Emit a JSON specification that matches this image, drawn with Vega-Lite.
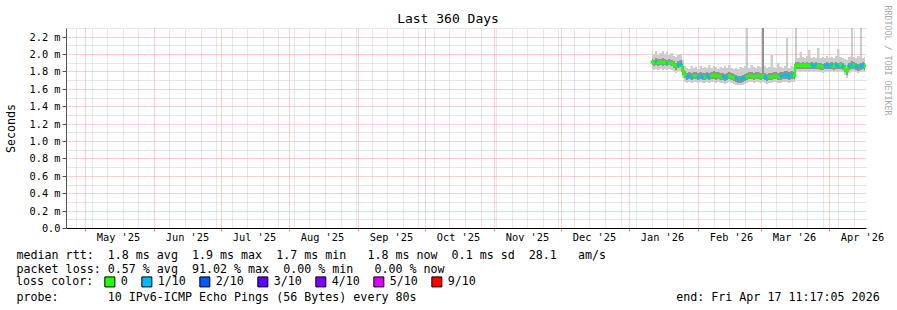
{
  "$schema": "https://vega.github.io/schema/vega-lite/v6.json",
  "width": 800,
  "height": 200,
  "autosize": {"type": "none"},
  "padding": {"left": 66, "top": 28, "right": 31, "bottom": 82},
  "background": "#ffffff",
  "config": {
    "font": "DejaVu Sans Mono",
    "view": {"stroke": null},
    "axis": {"labelFont": "DejaVu Sans Mono", "titleFont": "DejaVu Sans Mono", "titleFontWeight": "normal", "labelColor": "#000000", "titleColor": "#000000"}
  },
  "title": {"text": "Last 360 Days", "font": "DejaVu Sans Mono", "fontSize": 13, "fontWeight": "normal", "color": "#000000", "anchor": "middle", "frame": "group", "dx": -18, "dy": 35, "offset": 4, "baseline": "alphabetic"},
  "data": {"values": [
    {"d":"2026-01-11","lo":1.83,"hi":2.02,"ilo":1.87,"ihi":1.94,"med":1.91,"loss":"0"},
    {"d":"2026-01-12","lo":1.82,"hi":2.00,"ilo":1.86,"ihi":1.93,"med":1.90,"loss":"0"},
    {"d":"2026-01-13","lo":1.83,"hi":2.03,"ilo":1.87,"ihi":1.95,"med":1.91,"loss":"1/10"},
    {"d":"2026-01-14","lo":1.82,"hi":1.99,"ilo":1.86,"ihi":1.94,"med":1.90,"loss":"0"},
    {"d":"2026-01-15","lo":1.83,"hi":2.01,"ilo":1.87,"ihi":1.94,"med":1.91,"loss":"0"},
    {"d":"2026-01-16","lo":1.82,"hi":2.04,"ilo":1.86,"ihi":1.95,"med":1.90,"loss":"0"},
    {"d":"2026-01-17","lo":1.83,"hi":2.00,"ilo":1.87,"ihi":1.94,"med":1.91,"loss":"0"},
    {"d":"2026-01-18","lo":1.82,"hi":2.02,"ilo":1.86,"ihi":1.93,"med":1.90,"loss":"1/10"},
    {"d":"2026-01-19","lo":1.83,"hi":1.99,"ilo":1.87,"ihi":1.94,"med":1.90,"loss":"0"},
    {"d":"2026-01-20","lo":1.82,"hi":2.01,"ilo":1.86,"ihi":1.93,"med":1.90,"loss":"0"},
    {"d":"2026-01-21","lo":1.80,"hi":1.98,"ilo":1.84,"ihi":1.92,"med":1.88,"loss":"0"},
    {"d":"2026-01-22","lo":1.78,"hi":1.97,"ilo":1.82,"ihi":1.90,"med":1.86,"loss":"0"},
    {"d":"2026-01-23","lo":1.80,"hi":1.99,"ilo":1.84,"ihi":1.92,"med":1.88,"loss":"1/10"},
    {"d":"2026-01-24","lo":1.81,"hi":2.00,"ilo":1.85,"ihi":1.93,"med":1.89,"loss":"1/10"},
    {"d":"2026-01-25","lo":1.72,"hi":1.93,"ilo":1.76,"ihi":1.86,"med":1.80,"loss":"0"},
    {"d":"2026-01-26","lo":1.68,"hi":1.86,"ilo":1.72,"ihi":1.80,"med":1.76,"loss":"0"},
    {"d":"2026-01-27","lo":1.67,"hi":1.84,"ilo":1.70,"ihi":1.78,"med":1.74,"loss":"1/10"},
    {"d":"2026-01-28","lo":1.68,"hi":1.83,"ilo":1.71,"ihi":1.79,"med":1.75,"loss":"1/10"},
    {"d":"2026-01-29","lo":1.67,"hi":1.86,"ilo":1.70,"ihi":1.78,"med":1.74,"loss":"1/10"},
    {"d":"2026-01-30","lo":1.68,"hi":1.84,"ilo":1.71,"ihi":1.79,"med":1.75,"loss":"0"},
    {"d":"2026-01-31","lo":1.68,"hi":1.85,"ilo":1.71,"ihi":1.79,"med":1.75,"loss":"0"},
    {"d":"2026-02-01","lo":1.67,"hi":1.83,"ilo":1.70,"ihi":1.78,"med":1.74,"loss":"1/10"},
    {"d":"2026-02-02","lo":1.68,"hi":1.86,"ilo":1.71,"ihi":1.79,"med":1.75,"loss":"1/10"},
    {"d":"2026-02-03","lo":1.67,"hi":1.84,"ilo":1.70,"ihi":1.78,"med":1.74,"loss":"1/10"},
    {"d":"2026-02-04","lo":1.67,"hi":1.85,"ilo":1.70,"ihi":1.78,"med":1.74,"loss":"0"},
    {"d":"2026-02-05","lo":1.68,"hi":1.84,"ilo":1.71,"ihi":1.79,"med":1.75,"loss":"1/10"},
    {"d":"2026-02-06","lo":1.67,"hi":1.88,"ilo":1.70,"ihi":1.78,"med":1.74,"loss":"1/10"},
    {"d":"2026-02-07","lo":1.68,"hi":1.84,"ilo":1.71,"ihi":1.79,"med":1.75,"loss":"0"},
    {"d":"2026-02-08","lo":1.68,"hi":1.86,"ilo":1.71,"ihi":1.80,"med":1.76,"loss":"0"},
    {"d":"2026-02-09","lo":1.67,"hi":1.85,"ilo":1.70,"ihi":1.79,"med":1.75,"loss":"0"},
    {"d":"2026-02-10","lo":1.68,"hi":1.83,"ilo":1.71,"ihi":1.79,"med":1.75,"loss":"0"},
    {"d":"2026-02-11","lo":1.67,"hi":1.85,"ilo":1.70,"ihi":1.78,"med":1.74,"loss":"0"},
    {"d":"2026-02-12","lo":1.67,"hi":1.84,"ilo":1.70,"ihi":1.78,"med":1.74,"loss":"1/10"},
    {"d":"2026-02-13","lo":1.66,"hi":1.86,"ilo":1.69,"ihi":1.77,"med":1.73,"loss":"1/10"},
    {"d":"2026-02-14","lo":1.67,"hi":1.84,"ilo":1.70,"ihi":1.78,"med":1.74,"loss":"1/10"},
    {"d":"2026-02-15","lo":1.68,"hi":1.87,"ilo":1.71,"ihi":1.79,"med":1.75,"loss":"0"},
    {"d":"2026-02-16","lo":1.67,"hi":1.84,"ilo":1.70,"ihi":1.78,"med":1.74,"loss":"0"},
    {"d":"2026-02-17","lo":1.66,"hi":1.83,"ilo":1.69,"ihi":1.77,"med":1.73,"loss":"0"},
    {"d":"2026-02-18","lo":1.65,"hi":1.84,"ilo":1.68,"ihi":1.76,"med":1.72,"loss":"1/10"},
    {"d":"2026-02-19","lo":1.64,"hi":1.83,"ilo":1.67,"ihi":1.75,"med":1.71,"loss":"1/10"},
    {"d":"2026-02-20","lo":1.64,"hi":1.85,"ilo":1.67,"ihi":1.75,"med":1.71,"loss":"1/10"},
    {"d":"2026-02-21","lo":1.65,"hi":1.84,"ilo":1.68,"ihi":1.76,"med":1.72,"loss":"1/10"},
    {"d":"2026-02-22","lo":1.66,"hi":1.86,"ilo":1.69,"ihi":1.77,"med":1.73,"loss":"1/10"},
    {"d":"2026-02-23","lo":1.67,"hi":1.85,"ilo":1.70,"ihi":1.78,"med":1.74,"loss":"0","spike":2.4},
    {"d":"2026-02-24","lo":1.68,"hi":1.84,"ilo":1.71,"ihi":1.79,"med":1.75,"loss":"0"},
    {"d":"2026-02-25","lo":1.68,"hi":1.87,"ilo":1.71,"ihi":1.79,"med":1.75,"loss":"0"},
    {"d":"2026-02-26","lo":1.67,"hi":1.85,"ilo":1.70,"ihi":1.78,"med":1.74,"loss":"0"},
    {"d":"2026-02-27","lo":1.68,"hi":1.84,"ilo":1.71,"ihi":1.79,"med":1.75,"loss":"0"},
    {"d":"2026-02-28","lo":1.68,"hi":1.86,"ilo":1.71,"ihi":1.79,"med":1.75,"loss":"0"},
    {"d":"2026-03-01","lo":1.67,"hi":1.85,"ilo":1.70,"ihi":1.78,"med":1.74,"loss":"0"},
    {"d":"2026-03-02","lo":1.68,"hi":2.4,"ilo":1.71,"ihi":2.4,"med":1.75,"loss":"0"},
    {"d":"2026-03-03","lo":1.67,"hi":1.86,"ilo":1.70,"ihi":1.78,"med":1.74,"loss":"1/10"},
    {"d":"2026-03-04","lo":1.66,"hi":1.84,"ilo":1.69,"ihi":1.77,"med":1.73,"loss":"1/10"},
    {"d":"2026-03-05","lo":1.67,"hi":1.85,"ilo":1.70,"ihi":1.78,"med":1.74,"loss":"0"},
    {"d":"2026-03-06","lo":1.67,"hi":1.99,"ilo":1.70,"ihi":1.78,"med":1.74,"loss":"0"},
    {"d":"2026-03-07","lo":1.68,"hi":1.85,"ilo":1.71,"ihi":1.79,"med":1.75,"loss":"0"},
    {"d":"2026-03-08","lo":1.68,"hi":1.84,"ilo":1.71,"ihi":1.79,"med":1.75,"loss":"0"},
    {"d":"2026-03-09","lo":1.67,"hi":1.90,"ilo":1.70,"ihi":1.78,"med":1.74,"loss":"0"},
    {"d":"2026-03-10","lo":1.67,"hi":1.85,"ilo":1.70,"ihi":1.79,"med":1.75,"loss":"1/10"},
    {"d":"2026-03-11","lo":1.68,"hi":1.84,"ilo":1.71,"ihi":1.79,"med":1.75,"loss":"1/10"},
    {"d":"2026-03-12","lo":1.68,"hi":1.86,"ilo":1.71,"ihi":1.80,"med":1.76,"loss":"1/10"},
    {"d":"2026-03-13","lo":1.68,"hi":1.85,"ilo":1.71,"ihi":1.80,"med":1.76,"loss":"1/10","spike":2.19},
    {"d":"2026-03-14","lo":1.67,"hi":1.84,"ilo":1.70,"ihi":1.79,"med":1.75,"loss":"1/10"},
    {"d":"2026-03-15","lo":1.68,"hi":1.86,"ilo":1.71,"ihi":1.80,"med":1.76,"loss":"1/10"},
    {"d":"2026-03-16","lo":1.68,"hi":1.85,"ilo":1.71,"ihi":1.79,"med":1.75,"loss":"0"},
    {"d":"2026-03-17","lo":1.79,"hi":1.97,"ilo":1.83,"ihi":1.91,"med":1.87,"loss":"0","spike":2.4},
    {"d":"2026-03-18","lo":1.80,"hi":1.96,"ilo":1.83,"ihi":1.91,"med":1.87,"loss":"0"},
    {"d":"2026-03-19","lo":1.79,"hi":2.02,"ilo":1.83,"ihi":1.90,"med":1.86,"loss":"0"},
    {"d":"2026-03-20","lo":1.80,"hi":1.97,"ilo":1.83,"ihi":1.91,"med":1.87,"loss":"0"},
    {"d":"2026-03-21","lo":1.79,"hi":1.95,"ilo":1.83,"ihi":1.90,"med":1.86,"loss":"0"},
    {"d":"2026-03-22","lo":1.80,"hi":1.98,"ilo":1.83,"ihi":1.91,"med":1.87,"loss":"0"},
    {"d":"2026-03-23","lo":1.79,"hi":2.05,"ilo":1.83,"ihi":1.90,"med":1.86,"loss":"0"},
    {"d":"2026-03-24","lo":1.80,"hi":1.96,"ilo":1.83,"ihi":1.91,"med":1.87,"loss":"1/10"},
    {"d":"2026-03-25","lo":1.79,"hi":1.97,"ilo":1.83,"ihi":1.90,"med":1.86,"loss":"1/10"},
    {"d":"2026-03-26","lo":1.80,"hi":1.95,"ilo":1.83,"ihi":1.91,"med":1.87,"loss":"1/10"},
    {"d":"2026-03-27","lo":1.79,"hi":2.07,"ilo":1.83,"ihi":1.90,"med":1.86,"loss":"0"},
    {"d":"2026-03-28","lo":1.79,"hi":1.96,"ilo":1.82,"ihi":1.90,"med":1.86,"loss":"0"},
    {"d":"2026-03-29","lo":1.78,"hi":1.97,"ilo":1.82,"ihi":1.89,"med":1.85,"loss":"0"},
    {"d":"2026-03-30","lo":1.79,"hi":1.96,"ilo":1.83,"ihi":1.90,"med":1.86,"loss":"1/10"},
    {"d":"2026-03-31","lo":1.80,"hi":1.98,"ilo":1.83,"ihi":1.91,"med":1.87,"loss":"1/10"},
    {"d":"2026-04-01","lo":1.79,"hi":1.96,"ilo":1.83,"ihi":1.90,"med":1.86,"loss":"1/10"},
    {"d":"2026-04-02","lo":1.80,"hi":1.97,"ilo":1.83,"ihi":1.91,"med":1.87,"loss":"1/10"},
    {"d":"2026-04-03","lo":1.79,"hi":1.95,"ilo":1.82,"ihi":1.90,"med":1.86,"loss":"0"},
    {"d":"2026-04-04","lo":1.80,"hi":1.98,"ilo":1.83,"ihi":1.91,"med":1.87,"loss":"1/10"},
    {"d":"2026-04-05","lo":1.79,"hi":2.06,"ilo":1.83,"ihi":1.90,"med":1.86,"loss":"1/10"},
    {"d":"2026-04-06","lo":1.80,"hi":1.97,"ilo":1.83,"ihi":1.91,"med":1.87,"loss":"0"},
    {"d":"2026-04-07","lo":1.79,"hi":1.96,"ilo":1.82,"ihi":1.90,"med":1.86,"loss":"1/10"},
    {"d":"2026-04-08","lo":1.76,"hi":1.94,"ilo":1.79,"ihi":1.87,"med":1.83,"loss":"0"},
    {"d":"2026-04-09","lo":1.73,"hi":1.93,"ilo":1.76,"ihi":1.84,"med":1.80,"loss":"0"},
    {"d":"2026-04-10","lo":1.78,"hi":1.97,"ilo":1.82,"ihi":1.90,"med":1.86,"loss":"1/10"},
    {"d":"2026-04-11","lo":1.80,"hi":1.98,"ilo":1.83,"ihi":1.92,"med":1.88,"loss":"1/10","spike":2.4},
    {"d":"2026-04-12","lo":1.80,"hi":1.97,"ilo":1.83,"ihi":1.91,"med":1.87,"loss":"0"},
    {"d":"2026-04-13","lo":1.79,"hi":1.96,"ilo":1.82,"ihi":1.90,"med":1.86,"loss":"1/10"},
    {"d":"2026-04-14","lo":1.78,"hi":1.98,"ilo":1.81,"ihi":1.89,"med":1.85,"loss":"1/10"},
    {"d":"2026-04-15","lo":1.79,"hi":1.97,"ilo":1.82,"ihi":1.90,"med":1.86,"loss":"1/10","spike":2.4},
    {"d":"2026-04-16","lo":1.80,"hi":1.96,"ilo":1.83,"ihi":1.91,"med":1.87,"loss":"1/10"},
    {"d":"2026-04-17","lo":1.79,"hi":1.97,"ilo":1.82,"ihi":1.90,"med":1.86,"loss":"0"}
  ]},
  "resolve": {"axis": {"x": "independent", "y": "independent"}},
  "layer": [
    {
      "layer": [
        {
          "mark": {"type": "area", "interpolate": "step", "color": "#cdcdcd", "clip": true},
          "encoding": {
            "x": {
              "field": "d", "type": "temporal",
              "scale": {"type": "utc", "domain": [1745320625000, 1776424625000], "nice": false, "round": true},
              "axis": {
                "orient": "bottom",
                "values": [
                  {"year": 2025, "month": 5, "date": 1, "utc": true},
                  {"year": 2025, "month": 6, "date": 1, "utc": true},
                  {"year": 2025, "month": 7, "date": 1, "utc": true},
                  {"year": 2025, "month": 8, "date": 1, "utc": true},
                  {"year": 2025, "month": 9, "date": 1, "utc": true},
                  {"year": 2025, "month": 10, "date": 1, "utc": true},
                  {"year": 2025, "month": 11, "date": 1, "utc": true},
                  {"year": 2025, "month": 12, "date": 1, "utc": true},
                  {"year": 2026, "month": 1, "date": 1, "utc": true},
                  {"year": 2026, "month": 2, "date": 1, "utc": true},
                  {"year": 2026, "month": 3, "date": 1, "utc": true},
                  {"year": 2026, "month": 4, "date": 1, "utc": true}
                ],
                "tickCount": 100,
                "format": "%b '%y",
                "labelOffset": 33,
                "labelFlush": false,
                "labelOverlap": false,
                "labelFontSize": 10.3,
                "labelPadding": 1,
                "grid": true, "gridColor": "#f5a0a0", "gridDash": [1, 1], "gridWidth": 1,
                "ticks": true, "tickColor": "#f08080", "tickSize": 3,
                "domain": true, "domainColor": "#000000", "domainWidth": 1,
                "title": [
                  "median rtt:\u00a0\u00a01.8 ms avg\u00a0\u00a01.9 ms max\u00a0\u00a01.7 ms min\u00a0\u00a0\u00a01.8 ms now\u00a0\u00a00.1 ms sd\u00a0\u00a028.1\u00a0\u00a0\u00a0am/s",
                  "packet loss: 0.57 % avg\u00a0\u00a091.02 % max\u00a0\u00a00.00 % min\u00a0\u00a0\u00a00.00 % now"
                ],
                "titleFontSize": 11.66,
                "titleAlign": "left",
                "titleBaseline": "alphabetic",
                "titleX": -50,
                "titleY": 30,
                "titleLineHeight": 14
              }
            },
            "y": {
              "field": "lo", "type": "quantitative",
              "scale": {"domain": [0, 2.3], "nice": false, "zero": true, "round": true},
              "axis": {
                "orient": "left",
                "values": [0, 0.2, 0.4, 0.6, 0.8, 1.0, 1.2, 1.4, 1.6, 1.8, 2.0, 2.2],
                "tickCount": 40,
                "labelExpr": "datum.value == 0 ? '0.0\u00a0\u00a0' : format(datum.value, '.1f') + ' m'",
                "labelOverlap": false,
                "labelFontSize": 10.3,
                "labelPadding": 2,
                "grid": true, "gridColor": "#f5a0a0", "gridDash": [1, 1], "gridWidth": 1,
                "ticks": true, "tickColor": "#555555", "tickSize": 4,
                "domain": true, "domainColor": "#555555",
                "title": "Seconds",
                "titleFontSize": 11.66,
                "titleAngle": -90,
                "titleBaseline": "middle",
                "titleAlign": "center",
                "titleX": -55,
                "titleY": 100
              }
            },
            "y2": {"field": "hi"}
          }
        },
        {
          "mark": {"type": "area", "interpolate": "step", "color": "#939393", "clip": true},
          "encoding": {
            "x": {"field": "d", "type": "temporal"},
            "y": {"field": "ilo", "type": "quantitative"},
            "y2": {"field": "ihi"}
          }
        },
        {
          "mark": {"type": "line", "interpolate": "step", "color": "#26ff00", "strokeWidth": 2, "clip": true},
          "encoding": {
            "x": {"field": "d", "type": "temporal"},
            "y": {"field": "med", "type": "quantitative"}
          }
        },
        {
          "mark": {"type": "tick", "orient": "horizontal", "size": 2.6, "thickness": 3, "opacity": 1, "clip": true},
          "encoding": {
            "x": {"field": "d", "type": "temporal"},
            "y": {"field": "med", "type": "quantitative"},
            "color": {
              "field": "loss", "type": "nominal",
              "scale": {
                "domain": ["0", "1/10", "2/10", "3/10", "4/10", "5/10", "9/10"],
                "range": ["#26ff00", "#00b8ff", "#0059ff", "#5e00ff", "#7e00ff", "#dd00ff", "#ff0000"]
              },
              "legend": {
                "orient": "none",
                "legendX": -50,
                "legendY": 248,
                "direction": "horizontal",
                "title": "loss color:",
                "titleOrient": "left",
                "titleFont": "DejaVu Sans Mono",
                "titleFontSize": 11.66,
                "titleFontWeight": "normal",
                "titleColor": "#000000",
                "titlePadding": 10,
                "labelFont": "DejaVu Sans Mono",
                "labelFontSize": 11.66,
                "labelColor": "#000000",
                "labelOffset": 5,
                "columnPadding": 11,
                "symbolType": "square",
                "symbolSize": 100,
                "symbolStrokeColor": "#000000",
                "symbolStrokeWidth": 1,
                "symbolOpacity": 1,
                "padding": 0
              }
            }
          }
        }
      ]
    },
    {
      "transform": [{"filter": "datum.spike != null"}],
      "mark": {"type": "rule", "color": "#999999", "strokeWidth": 1, "clip": true},
      "encoding": {
        "x": {
          "field": "d", "type": "temporal",
          "axis": {
            "orient": "top",
            "values": [
              {"year": 2025, "month": 4, "date": 27, "utc": true},
              {"year": 2025, "month": 5, "date": 4, "utc": true},
              {"year": 2025, "month": 5, "date": 11, "utc": true},
              {"year": 2025, "month": 5, "date": 18, "utc": true},
              {"year": 2025, "month": 5, "date": 25, "utc": true},
              {"year": 2025, "month": 6, "date": 8, "utc": true},
              {"year": 2025, "month": 6, "date": 15, "utc": true},
              {"year": 2025, "month": 6, "date": 22, "utc": true},
              {"year": 2025, "month": 6, "date": 29, "utc": true},
              {"year": 2025, "month": 7, "date": 6, "utc": true},
              {"year": 2025, "month": 7, "date": 13, "utc": true},
              {"year": 2025, "month": 7, "date": 20, "utc": true},
              {"year": 2025, "month": 7, "date": 27, "utc": true},
              {"year": 2025, "month": 8, "date": 3, "utc": true},
              {"year": 2025, "month": 8, "date": 10, "utc": true},
              {"year": 2025, "month": 8, "date": 17, "utc": true},
              {"year": 2025, "month": 8, "date": 24, "utc": true},
              {"year": 2025, "month": 8, "date": 31, "utc": true},
              {"year": 2025, "month": 9, "date": 7, "utc": true},
              {"year": 2025, "month": 9, "date": 14, "utc": true},
              {"year": 2025, "month": 9, "date": 21, "utc": true},
              {"year": 2025, "month": 9, "date": 28, "utc": true},
              {"year": 2025, "month": 10, "date": 5, "utc": true},
              {"year": 2025, "month": 10, "date": 12, "utc": true},
              {"year": 2025, "month": 10, "date": 19, "utc": true},
              {"year": 2025, "month": 10, "date": 26, "utc": true},
              {"year": 2025, "month": 11, "date": 2, "utc": true},
              {"year": 2025, "month": 11, "date": 9, "utc": true},
              {"year": 2025, "month": 11, "date": 16, "utc": true},
              {"year": 2025, "month": 11, "date": 23, "utc": true},
              {"year": 2025, "month": 11, "date": 30, "utc": true},
              {"year": 2025, "month": 12, "date": 7, "utc": true},
              {"year": 2025, "month": 12, "date": 14, "utc": true},
              {"year": 2025, "month": 12, "date": 21, "utc": true},
              {"year": 2025, "month": 12, "date": 28, "utc": true},
              {"year": 2026, "month": 1, "date": 4, "utc": true},
              {"year": 2026, "month": 1, "date": 11, "utc": true},
              {"year": 2026, "month": 1, "date": 18, "utc": true},
              {"year": 2026, "month": 1, "date": 25, "utc": true},
              {"year": 2026, "month": 2, "date": 8, "utc": true},
              {"year": 2026, "month": 2, "date": 15, "utc": true},
              {"year": 2026, "month": 2, "date": 22, "utc": true},
              {"year": 2026, "month": 3, "date": 8, "utc": true},
              {"year": 2026, "month": 3, "date": 15, "utc": true},
              {"year": 2026, "month": 3, "date": 22, "utc": true},
              {"year": 2026, "month": 3, "date": 29, "utc": true},
              {"year": 2026, "month": 4, "date": 5, "utc": true},
              {"year": 2026, "month": 4, "date": 12, "utc": true}
            ],
            "tickCount": 200,
            "labels": false, "ticks": false, "domain": false,
            "grid": true, "gridColor": "#cccccc", "gridDash": [1, 1], "gridWidth": 1,
            "title": "probe:\u00a0\u00a0\u00a0\u00a0\u00a0\u00a0\u00a010 IPv6-ICMP Echo Pings (56 Bytes) every 80s\u00a0\u00a0\u00a0\u00a0\u00a0\u00a0\u00a0\u00a0\u00a0\u00a0\u00a0\u00a0\u00a0\u00a0\u00a0\u00a0\u00a0\u00a0\u00a0\u00a0\u00a0\u00a0\u00a0\u00a0\u00a0\u00a0\u00a0\u00a0\u00a0\u00a0\u00a0\u00a0\u00a0\u00a0\u00a0\u00a0\u00a0end: Fri Apr 17 11:17:05 2026",
            "titleFontSize": 11.66,
            "titleAlign": "left",
            "titleBaseline": "alphabetic",
            "titleX": -50,
            "titleY": 272
          }
        },
        "y": {
          "field": "hi", "type": "quantitative",
          "axis": {
            "orient": "right",
            "values": [0.1, 0.3, 0.5, 0.7, 0.9, 1.1, 1.3, 1.5, 1.7, 1.9, 2.1, 2.3],
            "tickCount": 40,
            "labels": false, "ticks": false, "domain": false,
            "grid": true, "gridColor": "#cccccc", "gridDash": [1, 1], "gridWidth": 1,
            "title": "RRDTOOL / TOBI OETIKER",
            "titleFontSize": 8.3,
            "titleColor": "#aaaaaa",
            "titleAngle": 90,
            "titleAlign": "center",
            "titleBaseline": "middle",
            "titleX": 20,
            "titleY": 32
          }
        },
        "y2": {"field": "spike"}
      }
    }
  ]
}
